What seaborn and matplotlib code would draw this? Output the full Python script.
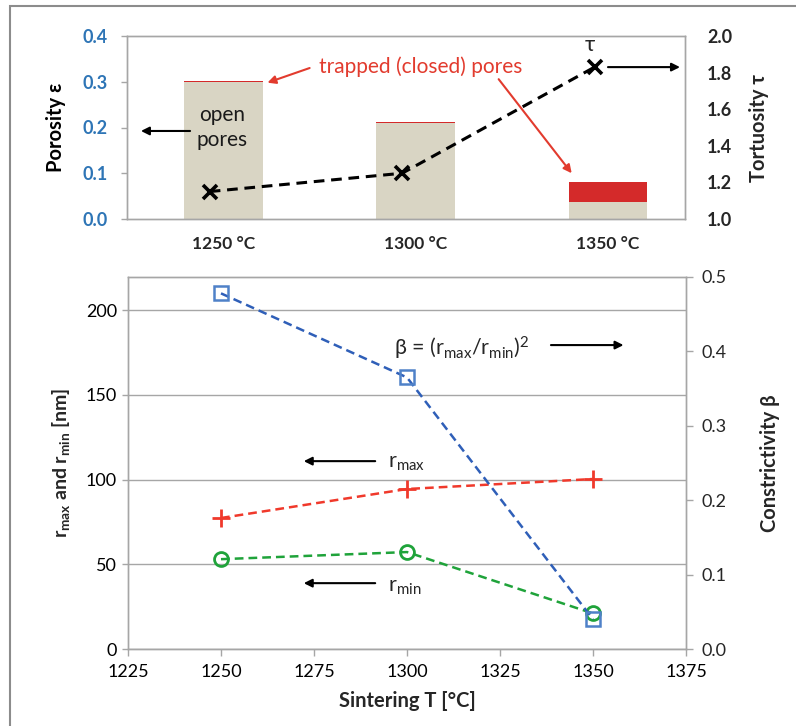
import numpy as np
import pandas as pd
import matplotlib
matplotlib.use("Agg")
import matplotlib.pyplot as plt
import seaborn as sns
from matplotlib.patches import Rectangle
from matplotlib.ticker import FormatStrFormatter

sns.set_theme(style="white")
plt.rcParams['font.family'] = ['Lato', 'DejaVu Sans']
plt.rcParams['mathtext.fontset'] = 'custom'
plt.rcParams['mathtext.rm'] = 'Lato'
plt.rcParams['mathtext.it'] = 'Lato:italic'
plt.rcParams['mathtext.bf'] = 'Lato:bold'

# ---- data ----
categories = ["1250 °C", "1300 °C", "1350 °C"]
open_porosity = [0.300, 0.210, 0.037]
closed_porosity = [0.002, 0.002, 0.044]
tortuosity = [1.15, 1.25, 1.83]

sinter_T = [1250, 1300, 1350]
r_max = [77.3, 94.4, 100.3]
r_min = [53.0, 57.2, 21.0]
beta = [0.478, 0.365, 0.040]

GRAY = "#A6A6A6"
TAN = "#D9D5C4"
RED_BAR = "#D42A2A"
RED_TXT = "#E23B2E"
BLUE_TICK = "#2E75B6"

fig = plt.figure(figsize=(7.96, 7.26), dpi=100)
fig.patches.append(Rectangle((10 / 796, -0.1), 1.2, 1 - 6 / 726 + 0.1, transform=fig.transFigure,
                             fill=False, edgecolor="#8C8C8C", linewidth=1.5, zorder=0))

# ---------------- top panel ----------------
ax1 = fig.add_axes([127 / 796, 1 - 219 / 726, 558 / 796, 183 / 726])
df_top = pd.DataFrame({"cat": categories,
                       "total": np.array(open_porosity) + np.array(closed_porosity),
                       "open": open_porosity})
sns.barplot(data=df_top, x="cat", y="total", color=RED_BAR, width=0.41, ax=ax1,
            saturation=1, linewidth=0)
sns.barplot(data=df_top, x="cat", y="open", color=TAN, width=0.41, ax=ax1,
            saturation=1, linewidth=0)
ax1.set_xlim(-0.5, 2.4)
ax1.set_ylim(0, 0.4)
ax1.set_yticks([0, 0.1, 0.2, 0.3, 0.4])
ax1.yaxis.set_major_formatter(FormatStrFormatter("%.1f"))
ax1.set_xlabel("")
ax1.set_ylabel("Porosity ε", fontsize=14.5, fontweight="bold", labelpad=12, color="black")
for lab in ax1.get_yticklabels():
    lab.set_color(BLUE_TICK)
    lab.set_fontweight("bold")
    lab.set_fontsize(13)
for lab in ax1.get_xticklabels():
    lab.set_fontweight("bold")
    lab.set_fontsize(12.5)
ax1.tick_params(axis="x", length=0, pad=12)
ax1.tick_params(axis="y", left=True, length=4, color=GRAY, width=1, pad=10)
for s in ax1.spines.values():
    s.set_color(GRAY)
    s.set_linewidth(1)

ax1b = ax1.twinx()
sns.lineplot(x=np.arange(3) - 0.07, y=tortuosity, ax=ax1b, color="black", linewidth=2.2,
             linestyle=(0, (3.5, 2.2)), marker="x", markersize=10, markeredgewidth=2.6,
             markeredgecolor="black")
ax1b.set_ylim(1.0, 2.0)
ax1b.set_yticks([1.0, 1.2, 1.4, 1.6, 1.8, 2.0])
ax1b.yaxis.set_major_formatter(FormatStrFormatter("%.1f"))
ax1b.set_ylabel("Tortuosity τ", fontsize=14.5, fontweight="bold", labelpad=12)
for lab in ax1b.get_yticklabels():
    lab.set_fontweight("bold")
    lab.set_fontsize(13)
ax1b.tick_params(axis="y", right=True, length=0, pad=16)
for s in ax1b.spines.values():
    s.set_color(GRAY)
    s.set_linewidth(1)

arr_k = dict(arrowstyle="-|>", color="black", lw=1.5, mutation_scale=12)
arr_r = dict(arrowstyle="-|>", color=RED_TXT, lw=1.5, mutation_scale=12)
ax1.text(0.170, 0.50, "open\npores", transform=ax1.transAxes, ha="center", va="center",
         fontsize=15, linespacing=1.3, color="#1a1a1a")
ax1.annotate("", xy=(0.020, 0.481), xytext=(0.118, 0.481), xycoords="axes fraction",
             arrowprops=arr_k)
ax1.text(0.527, 0.83, "trapped (closed) pores", transform=ax1.transAxes, ha="center",
         va="center", fontsize=15, color=RED_TXT)
ax1.annotate("", xy=(0.247, 0.740), xytext=(0.332, 0.83), xycoords="axes fraction",
             arrowprops=arr_r)
ax1.annotate("", xy=(0.800, 0.238), xytext=(0.663, 0.776), xycoords="axes fraction",
             arrowprops=arr_r)
ax1.text(0.830, 0.95, "τ", transform=ax1.transAxes, ha="center", va="center", fontsize=16)
ax1.annotate("", xy=(0.996, 0.83), xytext=(0.857, 0.83), xycoords="axes fraction",
             arrowprops=arr_k)

# ---------------- bottom panel ----------------
ax2 = fig.add_axes([128 / 796, 1 - 649 / 726, 558 / 796, 372 / 726])
sns.lineplot(x=sinter_T, y=r_max, ax=ax2, color="#F0392B", linewidth=1.8,
             linestyle=(0, (3.5, 2)), marker="+", markersize=13, markeredgewidth=2,
             markeredgecolor="#F0392B")
sns.lineplot(x=sinter_T, y=r_min, ax=ax2, color="#1FA33A", linewidth=1.8,
             linestyle=(0, (3.5, 2)), marker="o", markersize=10, markeredgewidth=2,
             markerfacecolor="none", markeredgecolor="#1FA33A")
ax2.set_xlim(1225, 1375)
ax2.set_ylim(0, 219.5)
ax2.set_xticks([1225, 1250, 1275, 1300, 1325, 1350, 1375])
ax2.set_yticks([0, 50, 100, 150, 200])
ax2.yaxis.grid(True, color=GRAY, linewidth=1)
ax2.set_axisbelow(True)
ax2.set_xlabel("Sintering T [°C]", fontsize=14.5, fontweight="bold", labelpad=8)
ax2.set_ylabel(r"r$_{\bf max}$ and r$_{\bf min}$ [nm]", fontsize=14, fontweight="bold",
               labelpad=10)
ax2.tick_params(axis="both", labelsize=13, colors="black")
ax2.tick_params(axis="y", left=True, length=4, color=GRAY, width=1, pad=4)
ax2.tick_params(axis="x", bottom=True, length=5, color=GRAY, width=1, pad=6)
for s in ax2.spines.values():
    s.set_color(GRAY)
    s.set_linewidth(1)

ax2b = ax2.twinx()
sns.lineplot(x=sinter_T, y=beta, ax=ax2b, color="#2F5FB8", linewidth=1.8,
             linestyle=(0, (3.5, 2)), marker="s", markersize=10, markeredgewidth=1.8,
             markerfacecolor="none", markeredgecolor="#4F81C8")
ax2b.set_ylim(0, 0.5)
ax2b.set_yticks([0, 0.1, 0.2, 0.3, 0.4, 0.5])
ax2b.yaxis.set_major_formatter(FormatStrFormatter("%.1f"))
ax2b.set_ylabel("Constrictivity β", fontsize=14.5, fontweight="bold", labelpad=24)
ax2b.tick_params(axis="y", right=True, length=5, color=GRAY, width=1, labelsize=13, pad=6)
for s in ax2b.spines.values():
    s.set_color(GRAY)
    s.set_linewidth(1)

ax2.text(0.476, 0.809, r"β = (r$_{\rm max}$/r$_{\rm min}$)$^{2}$", transform=ax2.transAxes,
         ha="left", va="center", fontsize=15.5)
ax2.annotate("", xy=(0.893, 0.817), xytext=(0.753, 0.817), xycoords="axes fraction",
             arrowprops=arr_k)
ax2.text(0.466, 0.50, r"r$_{\rm max}$", transform=ax2.transAxes, ha="left", va="center",
         fontsize=15.5)
ax2.annotate("", xy=(0.310, 0.505), xytext=(0.448, 0.505), xycoords="axes fraction",
             arrowprops=arr_k)
ax2.text(0.466, 0.168, r"r$_{\rm min}$", transform=ax2.transAxes, ha="left", va="center",
         fontsize=15.5)
ax2.annotate("", xy=(0.310, 0.177), xytext=(0.448, 0.177), xycoords="axes fraction",
             arrowprops=arr_k)

fig.savefig("out.png", dpi=100)
